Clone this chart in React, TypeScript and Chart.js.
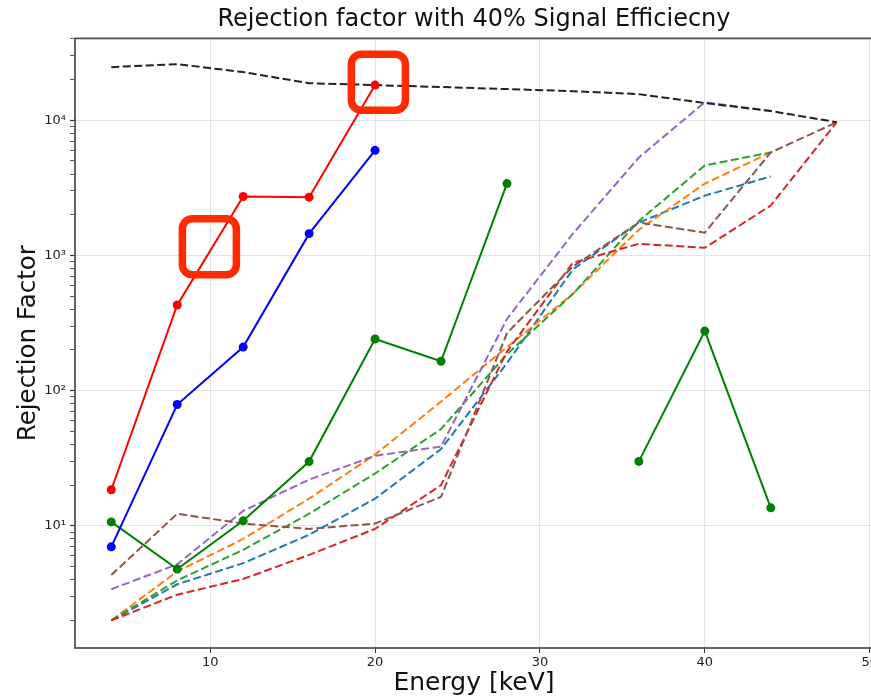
import React, { useEffect, useRef } from "react";
import { Chart, registerables } from "chart.js";
Chart.register(...registerables);

const energies = [4, 8, 12, 16, 20, 24, 28, 32, 36, 40, 44, 48];
const xTickValues = [10, 20, 30, 40, 50];
const yMajor = [10, 100, 1000, 10000];

const redSolid = [18.5, 430, 2730, 2700, 18200];
const blueSolid = [7.0, 79, 210, 1450, 5990];
const greenSolid = [10.7, 4.8, 10.9, 29.9, 241, 165, 3400, null, 30, 276, 13.6];
const blackDashed = [24700, 26000, 22700, 18800, 18200, 17600, 17000, 16400, 15600, 13400, 11700, 9670];
const tabBlue = [2.0, 3.7, 5.3, 8.6, 15.9, 37, 160, 790, 1750, 2770, 3840];
const tabOrange = [2.0, 4.6, 8.0, 15.9, 33.7, 83, 210, 520, 1550, 3400, 5780];
const tabGreen = [2.0, 3.95, 6.65, 12.3, 24.4, 52, 186, 520, 1800, 4630, 5780];
const tabRed = [2.0, 3.1, 4.05, 6.1, 9.5, 20, 195, 883, 1220, 1140, 2340, 9670];
const tabPurple = [3.4, 5.2, 12.9, 22, 33, 38.6, 339, 1450, 5300, 13600, 11700];
const tabBrown = [4.33, 12.3, 10.4, 9.5, 10.4, 16.4, 267, 830, 1750, 1475, 5780, 9670];

const highlightX = [20.2, 9.95];
const highlightY = [19100, 1160];

const FONT = "'DejaVu Sans', sans-serif";
const SUP: Record<string, string> = { "0": "⁰", "1": "¹", "2": "²", "3": "³", "4": "⁴", "5": "⁵" };

export default function App() {
  const ref = useRef<HTMLCanvasElement>(null);
  useEffect(() => {
    const pts = (arr: (number | null)[]) => arr.map((v, i) => ({ x: energies[i], y: v }));
    const dashed = (label: string, data: (number | null)[], color: string) => ({
      label, data: pts(data), borderColor: color, backgroundColor: color,
      borderWidth: 2, borderDash: [8, 3.5], pointRadius: 0, fill: false, tension: 0,
    });
    const solid = (label: string, data: (number | null)[], color: string) => ({
      label, data: pts(data), borderColor: color, backgroundColor: color,
      borderWidth: 2, pointRadius: 4.5, pointBorderWidth: 0, pointBackgroundColor: color,
      fill: false, tension: 0, spanGaps: false,
    });

    const framePlugin = {
      id: "frame",
      afterDraw(chart: any) {
        const { ctx, chartArea: a } = chart;
        ctx.save();
        ctx.strokeStyle = "#555";
        ctx.lineWidth = 1.8;
        ctx.strokeRect(a.left, a.top, a.right - a.left, a.bottom - a.top);
        ctx.restore();
      },
    };
    const highlightPlugin = {
      id: "highlight",
      afterDatasetsDraw(chart: any) {
        const { ctx } = chart;
        const xs = chart.scales.x, ys = chart.scales.y;
        ctx.save();
        ctx.strokeStyle = "#ff2a00";
        ctx.lineWidth = 7.5;
        highlightX.forEach((hx, i) => {
          const px = xs.getPixelForValue(hx);
          const py = ys.getPixelForValue(highlightY[i]);
          ctx.beginPath();
          ctx.roundRect(px - 27, py - 28, 54, 56, 10);
          ctx.stroke();
        });
        ctx.restore();
      },
    };

    const chart = new Chart(ref.current!, {
      type: "line",
      data: {
        datasets: [
          solid("red", redSolid, "#ff0000"),
          solid("blue", blueSolid, "#0000ff"),
          solid("green", greenSolid, "#008000"),
          dashed("black", blackDashed, "#222222"),
          dashed("brown", tabBrown, "#8c564b"),
          dashed("purple", tabPurple, "#9467bd"),
          dashed("tred", tabRed, "#d62728"),
          dashed("tgreen", tabGreen, "#2ca02c"),
          dashed("orange", tabOrange, "#ff7f0e"),
          dashed("tblue", tabBlue, "#1f77b4"),
        ] as any,
      },
      options: {
        animation: false,
        responsive: false,
        devicePixelRatio: 1,
        layout: { padding: { left: 0, right: 3, top: 0, bottom: 0 } },
        plugins: {
          legend: { display: false },
          tooltip: { enabled: false },
          title: {
            display: true,
            text: "Rejection factor with 40% Signal Efficiecny",
            color: "#111",
            fullSize: false,
            font: { family: FONT, size: 24, weight: "normal", lineHeight: 1.2 },
            padding: { top: 5, bottom: 4.6 },
          },
        },
        scales: {
          x: {
            type: "linear",
            min: 1.8,
            max: 50.2,
            afterFit: (s: any) => { s.height = 49; },
            afterBuildTicks: (s: any) => { s.ticks = xTickValues.map((v) => ({ value: v })); },
            ticks: { color: "#222", font: { family: FONT, size: 13 }, padding: 2, maxRotation: 0, autoSkip: false },
            grid: { color: "#e4e4e4", tickColor: "#333", tickLength: 5, lineWidth: 1 },
            border: { display: false },
            title: {
              display: true, text: "Energy [keV]", color: "#111",
              font: { family: FONT, size: 25, lineHeight: 1.05 }, padding: { top: 0, bottom: 0 },
            },
          },
          y: {
            type: "logarithmic",
            min: 1.25,
            max: 40300,
            afterFit: (s: any) => { s.width = 75; },
            afterBuildTicks: (s: any) => {
              const t: any[] = [];
              for (let e = 0; e <= 4; e++) {
                for (let m = 1; m <= 9; m++) {
                  const v = m * Math.pow(10, e);
                  if (v >= s.min && v <= s.max) t.push({ value: v, major: m === 1 });
                }
              }
              s.ticks = t;
            },
            ticks: {
              color: "#222", font: { family: FONT, size: 13 }, padding: 4, autoSkip: false,
              callback: (v: any) => {
                const n = Number(v);
                if (!yMajor.includes(n)) return "";
                const e = String(Math.round(Math.log10(n)));
                return "10" + e.split("").map((c) => SUP[c]).join("");
              },
            },
            grid: {
              color: (c: any) => (c.tick && yMajor.includes(c.tick.value) ? "#e4e4e4" : "rgba(0,0,0,0)"),
              tickColor: "#333",
              tickWidth: (c: any) => (c.tick && yMajor.includes(c.tick.value) ? 1.2 : 0.8),
              tickLength: 5,
            },
            border: { display: false },
            title: {
              display: true, text: "Rejection Factor", color: "#111",
              font: { family: FONT, size: 24.5, lineHeight: 1.1 }, padding: { top: 15, bottom: 0 },
            },
          },
        },
      } as any,
      plugins: [framePlugin, highlightPlugin],
    });
    return () => chart.destroy();
  }, []);
  return (
    <canvas
      ref={ref}
      width={880}
      height={697}
      style={{ position: "fixed", left: 0, top: 0, width: 880, height: 697 }}
    />
  );
}
